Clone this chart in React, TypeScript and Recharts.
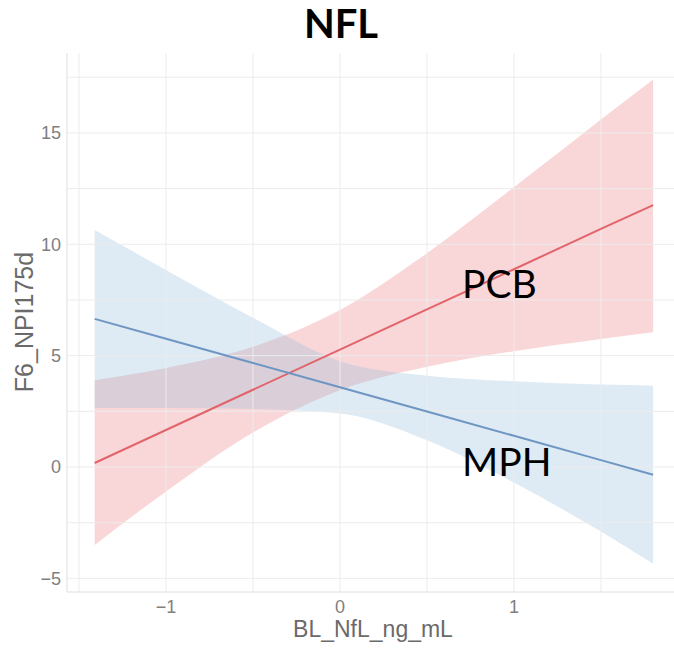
import React from "react";
import { ComposedChart, Area, Line, XAxis, YAxis, ReferenceLine } from "recharts";

// BL_NfL_ng_mL sample points
const xValues = [-1.41, -1.0, -0.5, 0.0, 0.5, 1.0, 1.5, 1.8];
// PCB fit and confidence band
const pcbFit = [0.18, 1.66, 3.47, 5.27, 7.08, 8.88, 10.69, 11.76];
const pcbLower = [-3.5, -1.1, 1.55, 3.45, 4.5, 5.2, 5.75, 6.05];
const pcbUpper = [3.9, 4.45, 5.4, 7.05, 9.6, 12.56, 15.6, 17.4];
// MPH fit and confidence band
const mphFit = [6.65, 5.76, 4.67, 3.58, 2.49, 1.4, 0.31, -0.35];
const mphLower = [2.65, 2.65, 2.6, 2.4, 1.2, -0.7, -2.9, -4.35];
const mphUpper = [10.64, 8.85, 6.7, 4.75, 4.1, 3.85, 3.7, 3.65];

const xTicks = [-1, 0, 1];
const yTicks = [-5, 0, 5, 10, 15];
const gridX = [-1.5, -1, -0.5, 0, 0.5, 1, 1.5];
const gridY = [-5, -2.5, 0, 2.5, 5, 7.5, 10, 12.5, 15, 17.5];

const rows = xValues.map((x, i) => ({
  x,
  pcbFit: pcbFit[i],
  pcbBand: [pcbLower[i], pcbUpper[i]],
  mphFit: mphFit[i],
  mphBand: [mphLower[i], mphUpper[i]],
}));

const fmt = (v: number) => (v < 0 ? "\u2212" + Math.abs(v) : String(v));

const tickStyle = { fill: "#7f7f7f", fontSize: 18, fontFamily: "Liberation Sans, Arial, sans-serif" };

export default function App() {
  return (
    <div style={{ position: "absolute", left: 0, top: 0, width: 674, height: 648, background: "#ffffff" }}>
      <ComposedChart width={674} height={648} data={rows} margin={{ top: 53, right: 0, bottom: 0, left: 0 }}>
        {gridX.map((v) => (
          <ReferenceLine key={"gx" + v} x={v} stroke="#ececec" strokeWidth={1} />
        ))}
        {gridY.map((v) => (
          <ReferenceLine key={"gy" + v} y={v} stroke="#ececec" strokeWidth={1} />
        ))}
        <XAxis
          type="number"
          dataKey="x"
          domain={[-1.569, 1.92]}
          ticks={xTicks}
          interval={0}
          allowDataOverflow
          height={56}
          axisLine={{ stroke: "#dedede" }}
          tickLine={false}
          tickSize={0}
          tickMargin={8}
          tick={tickStyle}
          tickFormatter={fmt}
        />
        <YAxis
          type="number"
          domain={[-5.613, 18.59]}
          ticks={yTicks}
          interval={0}
          allowDataOverflow
          width={67}
          axisLine={{ stroke: "#dedede" }}
          tickLine={false}
          tickSize={0}
          tickMargin={6}
          tick={tickStyle}
          tickFormatter={fmt}
        />
        <Area
          dataKey="pcbBand"
          type="monotone"
          stroke="none"
          fill="#EB7A80"
          fillOpacity={0.3}
          isAnimationActive={false}
          activeDot={false}
        />
        <Line
          dataKey="pcbFit"
          type="linear"
          stroke="#E0646A"
          strokeWidth={2}
          dot={false}
          activeDot={false}
          isAnimationActive={false}
        />
        <Area
          dataKey="mphBand"
          type="monotone"
          stroke="none"
          fill="#91B9DA"
          fillOpacity={0.3}
          isAnimationActive={false}
          activeDot={false}
        />
        <Line
          dataKey="mphFit"
          type="linear"
          stroke="#6E96C3"
          strokeWidth={2}
          dot={false}
          activeDot={false}
          isAnimationActive={false}
        />
      </ComposedChart>
      <svg
        width={674}
        height={648}
        style={{ position: "absolute", left: 0, top: 0, pointerEvents: "none" }}
      >
        <text x={341} y={38} textAnchor="middle" fontFamily="Lato, sans-serif" fontWeight={700} fontSize={40} fill="#000">
          NFL
        </text>
        <text x={462} y={298} textAnchor="start" fontFamily="Lato, sans-serif" fontSize={39} fill="#000">
          PCB
        </text>
        <text x={462} y={476} textAnchor="start" fontFamily="Lato, sans-serif" fontSize={39} fill="#000">
          MPH
        </text>
        <text x={373} y={637} textAnchor="middle" fontFamily="Liberation Sans, Arial, sans-serif" fontSize={23} fill="#6a6a6a">
          BL_NfL_ng_mL
        </text>
        <text
          x={33}
          y={322}
          textAnchor="middle"
          transform="rotate(-90 33 322)"
          fontFamily="Liberation Sans, Arial, sans-serif"
          fontSize={25}
          fill="#6a6a6a"
        >
          F6_NPI175d
        </text>
      </svg>
    </div>
  );
}
